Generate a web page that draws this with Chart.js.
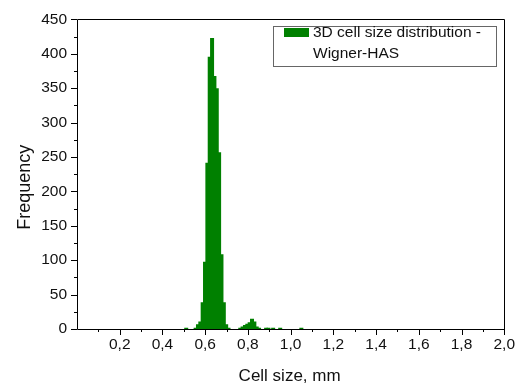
<!DOCTYPE html>
<html>
<head>
<meta charset="utf-8">
<script src="https://cdn.jsdelivr.net/npm/chart.js@4/dist/chart.umd.min.js"></script>
<style>
  html, body { margin: 0; padding: 0; background: #ffffff; }
  #wrap { width: 521px; height: 386px; position: relative; }
</style>
</head>
<body>
<div id="wrap"><canvas id="c" width="521" height="386"></canvas></div>
<script>
// ---- data ----
const binCenters = [0.5113, 0.5553, 0.5663, 0.5773, 0.5883, 0.5993, 0.6103, 0.6213, 0.6323, 0.6433,
                    0.6543, 0.6653, 0.6763, 0.6873, 0.6983, 0.7093, 0.7643, 0.7753, 0.7863, 0.7973,
                    0.8083, 0.8193, 0.8303, 0.8413, 0.8523, 0.8853, 0.8963, 0.9183, 0.9513, 1.0503];
const frequency  = [1, 1, 6, 10, 38, 97, 241, 395, 422, 367,
                    349, 256, 108, 38, 6, 1, 1, 3, 5, 7,
                    9, 14, 10, 3, 1, 1, 1, 1, 1, 1];
const seriesLabel = ['3D cell size distribution -', 'Wigner-HAS'];
const xTitle = 'Cell size, mm';
const yTitle = 'Frequency';
const xRange = [0, 2.0];
const yRange = [0, 450];

const FONT = "'Liberation Sans', Arial, sans-serif";
const GREEN = '#008000';
const TEXT = '#111';

const points = binCenters.map((x, i) => ({ x: x, y: frequency[i] }));

// axis frame, major/minor tick marks, titles and legend, positioned from the library's scales
const framePlugin = {
  id: 'frame',
  afterDraw(chart) {
    const ctx = chart.ctx;
    const a = chart.chartArea;
    const xs = chart.scales.x, ys = chart.scales.y;
    const L = Math.round(a.left), R = Math.round(a.right), T = Math.round(a.top), B = Math.round(a.bottom);
    ctx.save();
    ctx.strokeStyle = '#000';
    ctx.lineWidth = 1;
    ctx.beginPath();
    ctx.rect(L + 0.5, T + 0.5, R - L, B - T);
    ctx.stroke();
    ctx.beginPath();
    xs.ticks.forEach(t => {
      const v = t.value;
      if (v <= 0) return;
      const major = Math.round(v * 10) % 2 === 0;
      const px = Math.round(xs.getPixelForValue(v)) + 0.5;
      ctx.moveTo(px, B);
      ctx.lineTo(px, B + (major ? 6 : 3));
    });
    ys.ticks.forEach(t => {
      const v = t.value;
      const major = Math.round(v) % 50 === 0;
      const py = Math.round(ys.getPixelForValue(v)) + 0.5;
      ctx.moveTo(L, py);
      ctx.lineTo(L - (major ? 6 : 3), py);
    });
    ctx.stroke();

    // axis titles
    ctx.fillStyle = TEXT;
    ctx.textBaseline = 'alphabetic';
    ctx.textAlign = 'center';
    ctx.font = '17px ' + FONT;
    ctx.fillText(xTitle, (a.left + a.right) / 2 - 1, B + 52);
    ctx.save();
    ctx.translate(L - 47.5, (a.top + a.bottom) / 2 + 13);
    ctx.rotate(-Math.PI / 2);
    ctx.font = '18px ' + FONT;
    ctx.fillText(yTitle, 0, 0);
    ctx.restore();

    // legend box
    const bx = R - 231 + 0.5, by = T + 7 + 0.5;
    const bw = 223, bh = 40;
    ctx.fillStyle = '#fff';
    ctx.fillRect(bx, by, bw, bh);
    ctx.strokeStyle = '#666';
    ctx.strokeRect(bx, by, bw, bh);
    ctx.fillStyle = GREEN;
    ctx.fillRect(bx + 10.5, by + 1.5, 25, 9);
    ctx.fillStyle = TEXT;
    ctx.font = '15.5px ' + FONT;
    ctx.textAlign = 'left';
    seriesLabel.forEach((s, i) => {
      ctx.fillText(s, bx + 39.5, by + 10 + i * 21);
    });
    ctx.restore();
  }
};

new Chart(document.getElementById('c'), {
  type: 'bar',
  data: {
    datasets: [{
      label: seriesLabel.join(' '),
      data: points,
      backgroundColor: GREEN,
      borderColor: GREEN,
      borderWidth: 0,
      barThickness: 3,
      inflateAmount: 0.5
    }]
  },
  options: {
    responsive: false,
    animation: false,
    devicePixelRatio: 1,
    layout: { padding: { left: 0, right: 15, top: 15, bottom: 0 } },
    plugins: { legend: { display: false }, tooltip: { enabled: false } },
    scales: {
      x: {
        type: 'linear',
        min: xRange[0], max: xRange[1],
        offset: false,
        grid: { display: false, drawTicks: false },
        border: { display: false },
        ticks: {
          stepSize: 0.1,
          autoSkip: false,
          maxRotation: 0,
          padding: 6,
          color: TEXT,
          font: { family: FONT, size: 15.5 },
          callback: (v) => {
            const r = Math.round(v * 10);
            if (r === 0 || r % 2 !== 0) return '';
            return (r / 10).toFixed(1).replace('.', ',');
          }
        },
        title: { display: false },
        afterFit: (s) => { s.height = 57; }
      },
      y: {
        min: yRange[0], max: yRange[1],
        grid: { display: false, drawTicks: false },
        border: { display: false },
        ticks: {
          stepSize: 25,
          autoSkip: false,
          padding: 10,
          color: TEXT,
          font: { family: FONT, size: 15.5 },
          callback: (v) => (Math.round(v) % 50 === 0 ? String(v) : '')
        },
        title: { display: false },
        afterFit: (s) => { s.width = 77; }
      }
    }
  },
  plugins: [framePlugin]
});
</script>
</body>
</html>
